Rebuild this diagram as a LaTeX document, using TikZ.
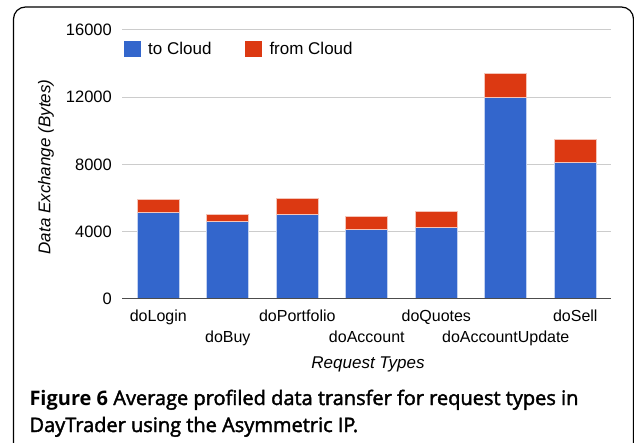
\documentclass[tikz,border=0pt]{standalone}
\usepackage{fontspec}
\setmainfont{Liberation Sans}
\newfontfamily\capfont[RawFeature={embolden=2}]{Open Sans}
\newfontfamily\capboldfont{Open Sans}
\definecolor{tcblue}{HTML}{3366CC}
\definecolor{fcred}{HTML}{DC3912}
\definecolor{gridgray}{HTML}{CCCCCC}
\begin{document}
\begin{tikzpicture}[x=1pt,y=-1pt,
  gridline/.style={draw=gridgray,line width=1pt},
  axisline/.style={draw=black!70,line width=1.3pt},
  tobar/.style={fill=tcblue,draw=white!70!tcblue,line width=0.7pt},
  frombar/.style={fill=fcred,draw=white!70!fcred,line width=0.7pt},
  ticklab/.style={anchor=east,inner sep=0pt,font=\fontsize{16.5}{19}\selectfont},
  catlab/.style={anchor=base,inner sep=0pt,font=\fontsize{16}{19}\selectfont},
  leglab/.style={anchor=base west,inner sep=0pt,font=\fontsize{17}{20}\selectfont},
  axtitle/.style={inner sep=0pt,font=\fontsize{17}{20}\selectfont\itshape},
  caption/.style={anchor=base west,inner sep=0pt,font=\fontsize{20}{24}\capfont}]
\useasboundingbox (0,0) rectangle (634,442);
% frame
\draw[line width=1.2pt,rounded corners=12pt] (13.5,480) -- (13.5,7) -- (633.5,7) -- (633.5,480);
% grid
\foreach \v/\lab in {16/16000,12/12000,8/8000,4/4000}{
  \draw[gridline] (122,{298.7-\v*16.794}) -- (611,{298.7-\v*16.794});
  \node[ticklab] (tick\v) at (112,{298.7-\v*16.794}) {\lab};
}
\node[ticklab] (tick0) at (112,298.7) {0};
% bars
\foreach \i/\b/\t in {0/5.12/5.89,1/4.58/5.02,2/5.02/5.98,3/4.15/4.92,4/4.23/5.18,5/11.96/13.42,6/8.12/9.49}{
  \pgfmathsetmacro{\cx}{158.3+69.5*\i}
  \draw[tobar] ({\cx-21},298.7) rectangle ({\cx+21},{298.7-\b*16.794});
  \draw[frombar] ({\cx-21},{298.7-\b*16.794}) rectangle ({\cx+21},{298.7-\t*16.794});
}
\draw[axisline] (122,298.7) -- (611,298.7);
% category labels
\node[catlab] (c0) at (158.3,321) {doLogin};
\node[catlab] (c1) at (227.8,342) {doBuy};
\node[catlab] (c2) at (297.3,321) {doPortfolio};
\node[catlab] (c3) at (366.8,342) {doAccount};
\node[catlab] (c4) at (436.3,321) {doQuotes};
\node[catlab] (c5) at (505.8,342) {doAccountUpdate};
\node[catlab] (c6) at (575.3,321) {doSell};
% axis titles
\node[axtitle,anchor=base] (xt) at (368,368.3) {Request Types};
\node[axtitle,rotate=90] (yt) at (46,167) {Data Exchange (Bytes)};
% legend
\fill[tcblue] (124,40.7) rectangle (140.7,56.7);
\node[leglab] (l1) at (148,54.3) {to Cloud};
\fill[fcred] (245,40.7) rectangle (261.5,56.7);
\node[leglab] (l2) at (269.3,54.3) {from Cloud};
% caption
\node[caption] (cap1) at (29.3,405) {{\capboldfont\bfseries Figure 6} Average profiled data transfer for request types in};
\node[caption] (cap2) at (29.3,432) {DayTrader using the Asymmetric IP.};
\end{tikzpicture}
\end{document}
